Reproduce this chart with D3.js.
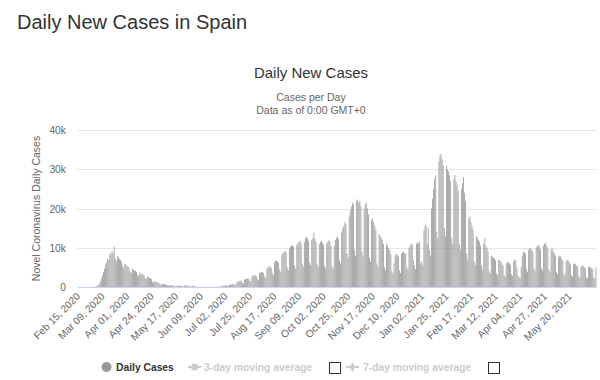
<!DOCTYPE html>
<html>
<head>
<meta charset="utf-8">
<script src="https://cdnjs.cloudflare.com/ajax/libs/d3/7.8.5/d3.min.js"></script>
<style>
body { margin: 0; background: #fff; }
text { font-family: "Liberation Sans", Arial, sans-serif; }
</style>
</head>
<body>
<svg id="chart" width="600" height="380"></svg>
<script>
// first day of the series
var startDate = "2020-02-15";

// daily new cases, one row per week (Sat .. Fri)
var dailyCases = [
    0, 0, 0, 0, 0, 0, 0,
    0, 0, 0, 2, 5, 8, 12,
    25, 45, 90, 160, 300, 480, 700,
    1500, 2200, 3000, 3800, 4700, 5600, 6300,
    7300, 6800, 8600, 8200, 9100, 8600, 10300,
    7200, 6600, 8000, 7600, 7100, 6900, 6500,
    5400, 4800, 6000, 5700, 5400, 5100, 4800,
    3900, 3600, 4700, 4400, 4200, 4100, 3800,
    3000, 2900, 3700, 3400, 3200, 3300, 2900,
    2300, 2000, 2700, 2500, 2300, 2200, 2000,
    1300, 1100, 1500, 1400, 1200, 1150, 1000,
    700, 600, 850, 800, 700, 650, 600,
    380, 320, 480, 450, 400, 360, 330,
    180, 120, 380, 330, 300, 290, 260,
    150, 90, 420, 380, 350, 320, 300,
    120, 60, 330, 300, 250, 0, 200,
    0, 0, 90, 60, 40, 30, 0,
    0, 0, 50, 70, 0, 40, 30,
    0, 0, 60, 80, 150, 0, 120,
    150, 90, 320, 350, 380, 400, 420,
    250, 180, 550, 600, 650, 700, 750,
    700, 550, 1300, 1400, 1500, 1600, 1550,
    1100, 900, 1900, 2000, 2100, 2200, 2100,
    1600, 1400, 2700, 2900, 3000, 3100, 2800,
    2000, 1700, 3500, 3700, 3800, 3900, 3600,
    2700, 2300, 4700, 5000, 5200, 5300, 4900,
    3500, 3000, 6300, 6600, 6800, 6500, 6200,
    4500, 3800, 8200, 8600, 8900, 9300, 8700,
    5000, 4300, 9800, 10300, 10500, 10700, 10200,
    5500, 4700, 10800, 11200, 11500, 11800, 11000,
    6000, 5200, 11500, 12500, 12800, 12300, 11800,
    6300, 5500, 12000, 12500, 13800, 12200, 11500,
    5800, 5000, 11000, 11500, 11800, 11200, 10800,
    5500, 4800, 11000, 11500, 11900, 11600, 10500,
    5200, 4600, 10500, 12000, 12500, 12900, 12200,
    6800, 6000, 14000, 15000, 15500, 16500, 16000,
    8500, 7500, 18000, 19500, 20500, 21500, 21000,
    9500, 8000, 22000, 22300, 21500, 22000, 20500,
    9000, 7800, 20000, 21000, 21500, 20000, 18500,
    7500, 6500, 17000, 17500, 16500, 15500, 14500,
    6000, 5200, 13500, 13000, 12500, 12000, 11000,
    5000, 4300, 11000, 10500, 10000, 9500, 8500,
    4000, 3500, 6000, 8000, 8500, 8200, 7800,
    4200, 3600, 8500, 8800, 9000, 8700, 8500,
    5000, 4500, 10000, 10500, 11000, 10800, 7000,
    5500, 4500, 11000, 11500, 11000, 11500, 6000,
    6500, 5500, 14500, 15500, 15800, 11000, 15000,
    9500, 8000, 20000, 22500, 25000, 27500, 28500,
    14000, 12500, 32000, 33500, 34000, 32500, 31000,
    15000, 13000, 31000, 30000, 29500, 28500, 27000,
    12500, 11000, 27500, 28500, 27000, 26000, 24500,
    11000, 9500, 25000, 26500, 28000, 24000, 22000,
    8500, 7000, 17500, 18000, 16500, 15500, 14500,
    6500, 5500, 13000, 12500, 12000, 11500, 10500,
    5500, 4500, 11000, 12500, 10500, 10000, 9000,
    4000, 3500, 8000, 7800, 7500, 7200, 6800,
    3500, 3000, 7000, 6800, 6500, 6000, 5500,
    3000, 2600, 6000, 6500, 6200, 6000, 5500,
    3200, 2800, 6500, 7000, 6800, 5000, 3000,
    2500, 2200, 5000, 8000, 9000, 8800, 8500,
    4500, 3800, 9500, 10000, 9800, 9500, 9000,
    4800, 4000, 10000, 10500, 10800, 10200, 9500,
    4800, 4200, 10500, 11000, 11300, 10500, 9800,
    4500, 3800, 9500, 10000, 9000, 8500, 8000,
    3800, 3300, 7500, 8000, 7800, 7200, 6800,
    3300, 2900, 6500, 7000, 6800, 6200, 5800,
    3000, 2600, 5800, 6000, 5800, 5500, 5200,
    2700, 2400, 5200, 5500, 5300, 5000, 4700,
    2500, 2200, 5000, 5200, 5000, 4800, 4600,
    2400, 2100, 5000
];

var yTicks = [0, 10000, 20000, 30000, 40000];
var yTickLabels = ["0", "10k", "20k", "30k", "40k"];

var xTickLabels = ["Feb 15, 2020", "Mar 09, 2020", "Apr 01, 2020", "Apr 24, 2020", "May 17, 2020",
    "Jun 09, 2020", "Jul 02, 2020", "Jul 25, 2020", "Aug 17, 2020", "Sep 09, 2020", "Oct 02, 2020",
    "Oct 25, 2020", "Nov 17, 2020", "Dec 10, 2020", "Jan 02, 2021", "Jan 25, 2021", "Feb 17, 2021",
    "Mar 12, 2021", "Apr 04, 2021", "Apr 27, 2021", "May 20, 2021"];

var legendNames = ["Daily Cases", "3-day moving average", "7-day moving average"];

var svg = d3.select("#chart");
var day0 = d3.timeParse("%Y-%m-%d")(startDate);
var parseLabel = d3.timeParse("%b %d, %Y");

var plotLeft = 77.3, plotRight = 596.5, plotTop = 130, plotBottom = 287;

var x = d3.scaleBand()
    .domain(d3.range(dailyCases.length))
    .range([plotLeft, plotRight]);
var bw = x.bandwidth();

var y = d3.scaleLinear()
    .domain([0, 40000])
    .range([plotBottom, plotTop]);

// page title
svg.append("text")
    .attr("x", 17).attr("y", 29)
    .style("font-size", "20px")
    .style("fill", "#333")
    .text("Daily New Cases in Spain");

// chart titles
svg.append("text")
    .attr("x", 311).attr("y", 78)
    .attr("text-anchor", "middle")
    .style("font-size", "15px")
    .style("fill", "#333")
    .text("Daily New Cases");
svg.append("text")
    .attr("x", 311).attr("y", 101)
    .attr("text-anchor", "middle")
    .style("font-size", "10.5px")
    .style("fill", "#666")
    .text("Cases per Day");
svg.append("text")
    .attr("x", 311).attr("y", 114)
    .attr("text-anchor", "middle")
    .style("font-size", "10.5px")
    .style("fill", "#666")
    .text("Data as of 0:00 GMT+0");

// grid lines and y labels
svg.append("g")
    .selectAll("line")
    .data(yTicks)
    .enter()
    .append("line")
    .attr("x1", plotLeft).attr("x2", plotRight)
    .attr("y1", function(d) { return Math.round(y(d)) + 0.5; })
    .attr("y2", function(d) { return Math.round(y(d)) + 0.5; })
    .attr("stroke", function(d) { return d === 0 ? "#ccd6eb" : "#e6e6e6"; })
    .attr("stroke-width", 1);

svg.append("g")
    .selectAll("text")
    .data(yTicks)
    .enter()
    .append("text")
    .attr("x", 66)
    .attr("y", function(d) { return y(d) + 4; })
    .attr("text-anchor", "end")
    .style("font-size", "10.3px")
    .style("fill", "#666")
    .text(function(d, i) { return yTickLabels[i]; });

// y axis title
svg.append("text")
    .attr("transform", "translate(40," + ((plotTop + plotBottom) / 2) + ") rotate(-90)")
    .attr("text-anchor", "middle")
    .style("font-size", "10.5px")
    .style("fill", "#666")
    .text("Novel Coronavirus Daily Cases");

// bars
svg.append("g")
    .selectAll("rect")
    .data(dailyCases)
    .enter()
    .append("rect")
    .attr("x", function(d, i) { return x(i) + bw * 0.12; })
    .attr("width", bw * 0.76)
    .attr("y", function(d) { return y(d); })
    .attr("height", function(d) { return plotBottom - y(d); })
    .style("fill", "#999");

// x labels
svg.append("g")
    .selectAll("text")
    .data(xTickLabels)
    .enter()
    .append("text")
    .attr("transform", function(d) {
        var idx = d3.timeDay.count(day0, parseLabel(d));
        var cx = x(idx) + bw / 2;
        return "translate(" + (cx + 3) + "," + 297 + ") rotate(-45)";
    })
    .attr("text-anchor", "end")
    .style("font-size", "10.3px")
    .style("fill", "#666")
    .text(function(d) { return d; });

// legend
var lg = svg.append("g");
lg.append("circle").attr("cx", 106.5).attr("cy", 367).attr("r", 5).style("fill", "#999");
lg.append("text").attr("x", 116).attr("y", 371)
    .style("font-size", "10.3px").style("font-weight", "bold").style("fill", "#333")
    .text(legendNames[0]);

[[188, 204, 329], [346, 363, 488]].forEach(function(p, i) {
    lg.append("line")
        .attr("x1", p[0]).attr("x2", p[0] + 13)
        .attr("y1", 367).attr("y2", 367)
        .attr("stroke", "#ccc").attr("stroke-width", 2);
    if (i === 0) {
        lg.append("circle").attr("cx", p[0] + 6.5).attr("cy", 367).attr("r", 3.5).style("fill", "#ccc");
    } else {
        lg.append("path")
            .attr("d", d3.symbol().type(d3.symbolDiamond).size(30))
            .attr("transform", "translate(" + (p[0] + 6.5) + ",367)")
            .style("fill", "#ccc");
    }
    lg.append("text").attr("x", p[1]).attr("y", 371)
        .style("font-size", "10.3px").style("font-weight", "bold").style("fill", "#ccc")
        .text(legendNames[i + 1]);
    lg.append("rect")
        .attr("x", p[2] + 0.5).attr("y", 362.5)
        .attr("width", 11).attr("height", 11)
        .style("fill", "#fff").style("stroke", "#333").style("stroke-width", 1);
});
</script>
</body>
</html>
